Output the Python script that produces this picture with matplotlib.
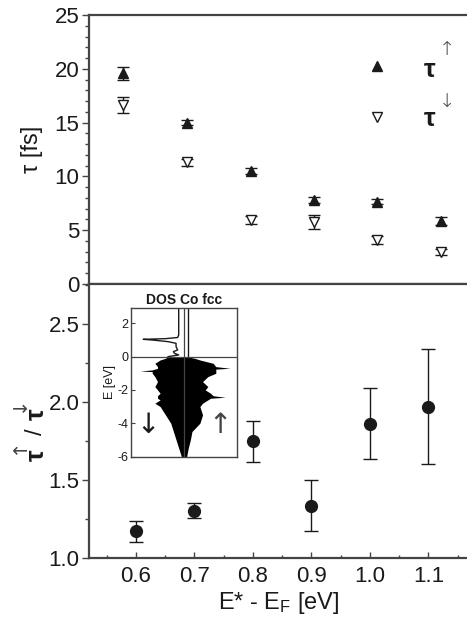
import matplotlib
matplotlib.use("Agg")
import matplotlib.pyplot as plt
from matplotlib.ticker import MultipleLocator
import numpy as np

plt.rcParams['font.family'] = ['Liberation Sans', 'DejaVu Sans']
plt.rcParams['mathtext.fontset'] = 'dejavusans'
plt.rcParams['mathtext.default'] = 'regular'

# ---- data: top panel (lifetimes) ----
top_x = [0.578, 0.687, 0.797, 0.905, 1.013, 1.122]
tau_up = [19.6, 15.0, 10.5, 7.8, 7.65, 5.85]
tau_up_err = [0.6, 0.25, 0.25, 0.3, 0.25, 0.35]
tau_dn = [16.6, 11.3, 5.95, 5.8, 4.1, 2.95]
tau_dn_err = [0.75, 0.3, 0.35, 0.65, 0.35, 0.3]
legend_x = 1.013
legend_up_y = 20.3
legend_dn_y = 15.55

# ---- data: bottom panel (ratio) ----
ratio_x = [0.6, 0.7, 0.8, 0.9, 1.0, 1.1]
ratio = [1.173, 1.30, 1.752, 1.333, 1.86, 1.97]
ratio_lo = [1.105, 1.255, 1.615, 1.17, 1.635, 1.60]
ratio_hi = [1.24, 1.35, 1.88, 1.50, 2.09, 2.34]

# ---- data: inset DOS (Co fcc) ----
dos_E = [0.0, -0.1, -0.2, -0.4, -0.6, -0.7, -0.75, -0.8, -0.86, -0.9, -1.0, -1.2,
         -1.5, -1.8, -2.0, -2.2, -2.35, -2.44, -2.5, -2.6, -2.8, -3.0, -3.5, -4.0,
         -4.5, -5.0, -5.5, -6.0]
dos_dn_occ = [0.3, 0.35, 0.45, 0.55, 0.5, 0.5, 0.55, 0.6, 0.83, 0.6, 0.6, 0.55,
              0.5, 0.55, 0.5, 0.45, 0.5, 0.5, 0.5, 0.45, 0.55, 0.45, 0.35, 0.25,
              0.2, 0.15, 0.1, 0.05]
dos_up_occ = [0.05, 0.2, 0.3, 0.55, 0.6, 0.87, 0.6, 0.6, 0.6, 0.6, 0.6, 0.45,
              0.35, 0.45, 0.4, 0.5, 0.55, 0.78, 0.5, 0.45, 0.35, 0.3, 0.35, 0.3,
              0.15, 0.12, 0.08, 0.05]
dos_E_unocc = [3.0, 1.3, 1.15, 1.08, 1.04, 1.0, 0.9, 0.8, 0.6, 0.4, 0.3, 0.2, 0.1, 0.0]
dos_dn_unocc = [0.1, 0.1, 0.12, 0.35, 0.77, 0.6, 0.3, 0.15, 0.15, 0.12, 0.2, 0.18, 0.1, 0.3]

ink = '#1a1a1a'
spine_c = '#444444'
W, H = 467, 625

fig = plt.figure(figsize=(4.67, 6.25), dpi=100)
L, R = 89 / W, 1.005
ax1 = fig.add_axes([L, 1 - 284 / H, R - L, (284 - 15) / H])
ax2 = fig.add_axes([L, 1 - 558 / H, R - L, (558 - 284) / H])

for ax in (ax1, ax2):
    for s in ax.spines.values():
        s.set_color(spine_c)
        s.set_linewidth(1.6)
    ax.spines['right'].set_visible(False)
    ax.tick_params(axis='y', which='both', direction='out', colors=spine_c,
                   labelcolor=ink, labelsize=16, width=1.0, pad=2)
    ax.tick_params(axis='y', which='major', length=5)
    ax.tick_params(axis='y', which='minor', length=3)
    ax.set_xlim(0.52, 1.17)

# top panel
ax1.errorbar(top_x, tau_up, yerr=tau_up_err, fmt='^', color=ink, ms=7,
             capsize=4, elinewidth=1, capthick=1, mfc=ink, mec=ink)
ax1.errorbar(top_x, tau_dn, yerr=tau_dn_err, fmt='v', color=ink, ms=7,
             capsize=4, elinewidth=1, capthick=1, mfc='white', mec=ink, mew=1.0)
ax1.plot([legend_x], [legend_up_y], '^', color=ink, ms=7)
ax1.plot([legend_x], [legend_dn_y], 'v', mfc='white', mec=ink, ms=7)
ax1.text(1.093, 19.9, 'τ', fontsize=19, color=ink, ha='left', va='center',
         fontweight='bold')
ax1.text(1.118, 21.8, '↑', fontsize=14, color=spine_c, ha='left', va='center',
         family='DejaVu Sans', fontweight='light')
ax1.text(1.093, 15.3, 'τ', fontsize=19, color=ink, ha='left', va='center',
         fontweight='bold')
ax1.text(1.118, 17.0, '↓', fontsize=14, color=spine_c, ha='left', va='center',
         family='DejaVu Sans', fontweight='light')
ax1.set_ylim(0, 25)
ax1.yaxis.set_major_locator(MultipleLocator(5))
ax1.yaxis.set_minor_locator(MultipleLocator(1))
ax1.tick_params(axis='x', which='both', bottom=False, labelbottom=False)
ax1.set_ylabel('τ [fs]', fontsize=17, color=ink, labelpad=8)

# bottom panel
yerr = [np.array(ratio) - np.array(ratio_lo), np.array(ratio_hi) - np.array(ratio)]
ax2.errorbar(ratio_x, ratio, yerr=yerr, fmt='o', color=ink, ms=8.5,
             capsize=5, elinewidth=1, capthick=1)
ax2.set_ylim(1.0, 2.756)
ax2.set_yticks([1.0, 1.5, 2.0, 2.5])
ax2.set_yticklabels(['1.0', '1.5', '2.0', '2.5'])
ax2.yaxis.set_minor_locator(MultipleLocator(0.25))
ax2.set_xticks(ratio_x)
ax2.set_xticklabels(['0.6', '0.7', '0.8', '0.9', '1.0', '1.1'])
ax2.xaxis.set_minor_locator(MultipleLocator(0.05))
ax2.tick_params(axis='x', which='both', direction='in', colors=spine_c,
                labelcolor=ink, labelsize=16, width=1.0, pad=6)
ax2.tick_params(axis='x', which='major', length=4)
ax2.tick_params(axis='x', which='minor', length=2.5)
ax2.set_xlabel(r'E* - E$_\mathregular{F}$ [eV]', fontsize=17, color=ink, labelpad=2)

# rotated y label  tau^up / tau^down  built from pieces
def ftext(x, y, s, **kw):
    fig.text(x / W, 1 - y / H, s, rotation=90, ha='center', va='center', **kw)

ftext(37, 455, 'τ', fontsize=19, color=ink, fontweight='bold')
ftext(19, 446, '↑', fontsize=14, color=spine_c, family='DejaVu Sans')
ftext(36, 432, '/', fontsize=17, color=ink)
ftext(37, 414, 'τ', fontsize=19, color=ink, fontweight='bold')
ftext(19, 404, '↓', fontsize=14, color=spine_c, family='DejaVu Sans')

# inset
axi = fig.add_axes([131 / W, 1 - 456.5 / H, (237 - 131) / W, (456.5 - 307.7) / H])
axi.fill_betweenx(dos_E, [-v for v in dos_dn_occ], dos_up_occ, color='black', lw=0)
axi.plot([-v for v in dos_dn_unocc], dos_E_unocc, color=ink, lw=1.0)
axi.plot([0.08, 0.08], [0, 3], color=ink, lw=1.0)
axi.axhline(0, color=spine_c, lw=0.9)
axi.axvline(0, color=spine_c, lw=0.9)
axi.set_xlim(-1, 1)
axi.set_ylim(-6, 2.94)
axi.set_xticks([])
axi.set_yticks([-6, -4, -2, 0, 2])
axi.set_yticklabels(['-6', '-4', '-2', '0', '2'])
axi.tick_params(axis='y', direction='in', length=3, labelsize=9, pad=2,
                colors=spine_c, labelcolor=ink)
for s in axi.spines.values():
    s.set_color(spine_c)
    s.set_linewidth(1.0)
axi.set_ylabel('E [eV]', fontsize=9, color=ink, labelpad=1)
axi.set_title('DOS Co fcc', fontsize=10, color=ink, pad=3, fontweight='bold')
axi.text(-0.68, -4.1, '↓', fontsize=20, color=ink, ha='center', va='center',
         family='DejaVu Sans')
axi.text(0.68, -4.1, '↑', fontsize=20, color=spine_c, ha='center', va='center',
         family='DejaVu Sans')

fig.savefig('out.png', dpi=100)
